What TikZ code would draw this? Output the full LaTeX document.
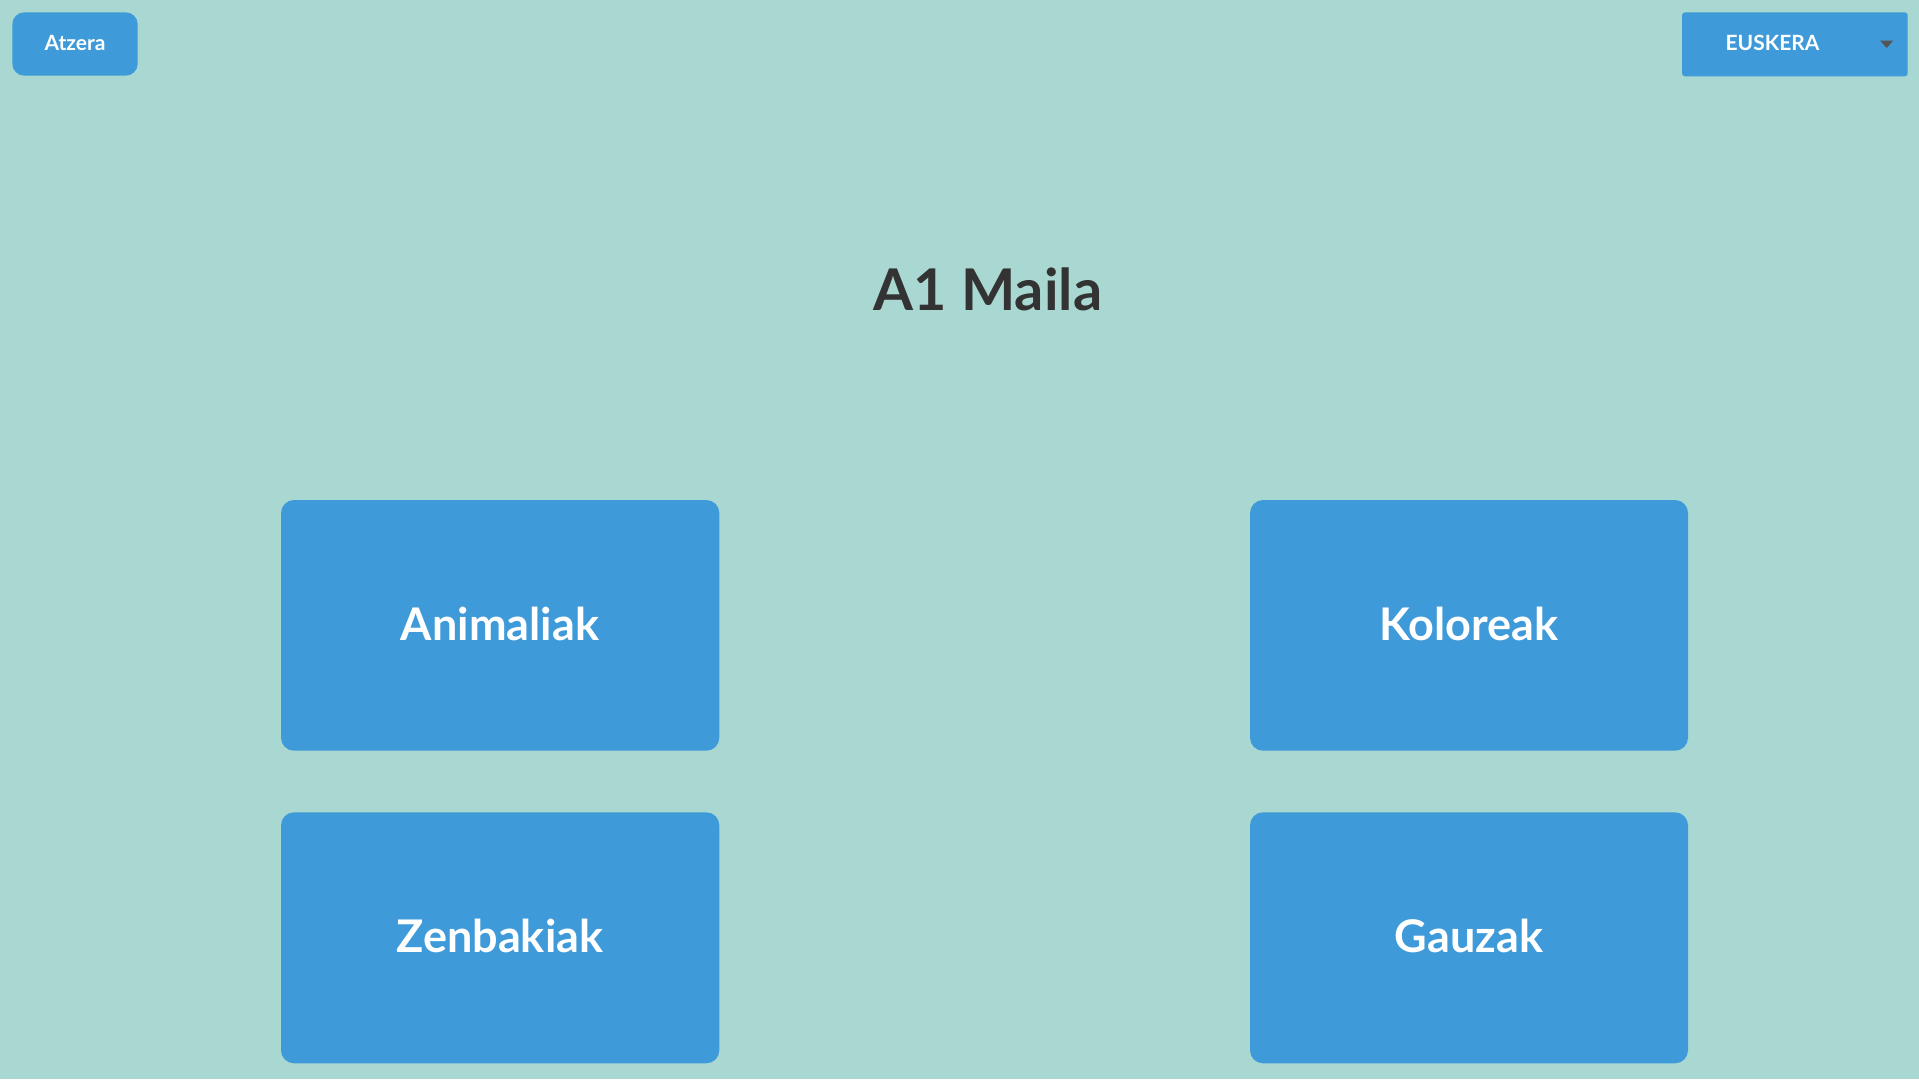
\documentclass[tikz,border=0pt]{standalone}
\usepackage{fontspec}
\setmainfont{Lato}
\definecolor{bgc}{RGB}{169,216,211}
\definecolor{btnc}{RGB}{62,154,217}
\definecolor{titlec}{RGB}{51,51,51}
\definecolor{arrc}{RGB}{85,85,85}
\begin{document}
\begin{tikzpicture}[x=1pt,y=-1pt,
  cardtxt/.style={anchor=base,text=white,font=\fontsize{45}{50}\selectfont\bfseries,inner sep=0pt},
  smalltxt/.style={anchor=base,text=white,font=\fontsize{21}{24}\selectfont\bfseries,inner sep=0pt}]
\fill[bgc] (0,0) rectangle (1919,1079);
\useasboundingbox (0,0) rectangle (1919,1079);
% top buttons
\fill[btnc,rounded corners=12pt] (12.3,12.3) rectangle (137.7,75.7);
\node[smalltxt] (atzera) at (75,50) {Atzera};
\fill[btnc,rounded corners=3pt] (1682,12.3) rectangle (1907.7,76.3);
\node[smalltxt] (eusk) at (1772.5,50) {EUSKERA};
\fill[arrc] (1880,40.5) -- (1893.3,40.5) -- (1886.7,48) -- cycle;
% title
\node[anchor=base,text=titlec,font=\fontsize{57.5}{62}\selectfont\bfseries,inner sep=0pt] (title) at (988,310.7) {A1 Maila};
% cards
\fill[btnc,rounded corners=13pt] (281,500) rectangle (719.3,750.7);
\fill[btnc,rounded corners=13pt] (1250,500) rectangle (1688,750.7);
\fill[btnc,rounded corners=13pt] (281,812.3) rectangle (719.3,1063.3);
\fill[btnc,rounded corners=13pt] (1250,812.3) rectangle (1688,1063.3);
\node[cardtxt] (anim) at (500,640) {Animaliak};
\node[cardtxt] (kolo) at (1469,640) {Koloreak};
\node[cardtxt] (zenb) at (500,952.3) {Zenbakiak};
\node[cardtxt] (gauz) at (1469,952.3) {Gauzak};
\end{tikzpicture}
\end{document}
